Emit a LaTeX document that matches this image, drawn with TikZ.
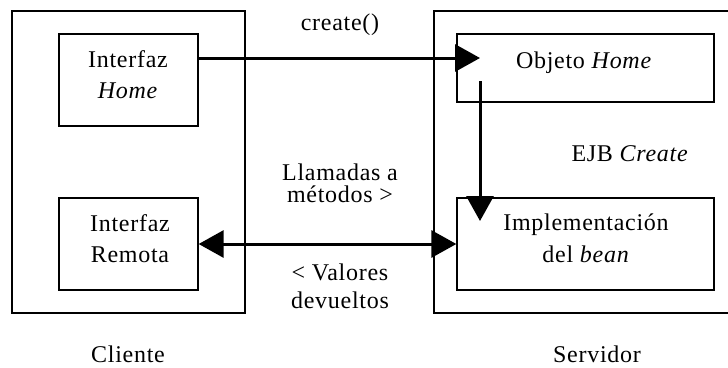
\documentclass[tikz,border=0pt]{standalone}
\usepackage{fontspec}
\setmainfont[LetterSpace=3]{Liberation Serif}
\usetikzlibrary{arrows.meta}
\begin{document}
\begin{tikzpicture}[x=1pt,y=-1pt,
  frame/.style={draw,line width=1.3pt},
  part/.style={draw,line width=1.3pt,minimum width=139pt,inner sep=0pt},
  txt/.style={anchor=base,align=center,inner sep=0pt,font=\fontsize{24}{31}\selectfont},
  lbl/.style={anchor=base,align=center,inner sep=0pt,font=\fontsize{24}{22}\selectfont},
  flow/.style={line width=3pt,-{Triangle[length=25pt,width=27pt]}},
  twoway/.style={line width=3pt,{Triangle[length=25pt,width=27pt]}-{Triangle[length=25pt,width=27pt]}}]
\useasboundingbox (0,0) rectangle (728,367);

% client and server enclosures
\draw[frame] (12,11) rectangle (245,313);
\draw[frame] (735,11) -- (434,11) -- (434,313) -- (735,313);

% components
\node[part,minimum height=92pt] (hb) at (128.5,80) {};
\node[part,minimum height=92pt] (rb) at (128.5,244) {};
\node[part,minimum width=257pt,minimum height=68pt] (ob) at (585.5,68) {};
\node[part,minimum width=257pt,minimum height=92pt] (ib) at (585.5,244) {};

% component names (anchored on the last line's baseline)
\node[txt] (hbt) at (128,98) {Interfaz\\\textit{Home}};
\node[txt] (rbt) at (130,262) {Interfaz\\Remota};
\node[txt] (obt) at (584,68) {Objeto \textit{Home}};
\node[txt,font=\fontsize{24}{32}\selectfont] (ibt) at (586,262) {Implementación\\del \textit{bean}};

% free ends of the connectors inside the server boxes
\coordinate (ctip) at (480,58);
\coordinate (vtop) at (480,81);
\coordinate (vtip) at (480,221);

% connectors
\draw[flow] (hb.east |- ctip) -- (ctip);
\draw[flow] (vtop) -- (vtip);
\draw[twoway] (rb.east) -- (ib.west);

% captions
\node[lbl] (cr) at (340,30) {create()};
\node[lbl] (ll) at (340,202) {Llamadas a\\métodos >};
\node[lbl,font=\fontsize{24}{28}\selectfont] (vd) at (340,308) {< Valores\\devueltos};
\node[lbl] (ej) at (630,161) {EJB \textit{Create}};
\node[lbl] (cl) at (128,362) {Cliente};
\node[lbl] (sv) at (597,362) {Servidor};
\end{tikzpicture}
\end{document}
